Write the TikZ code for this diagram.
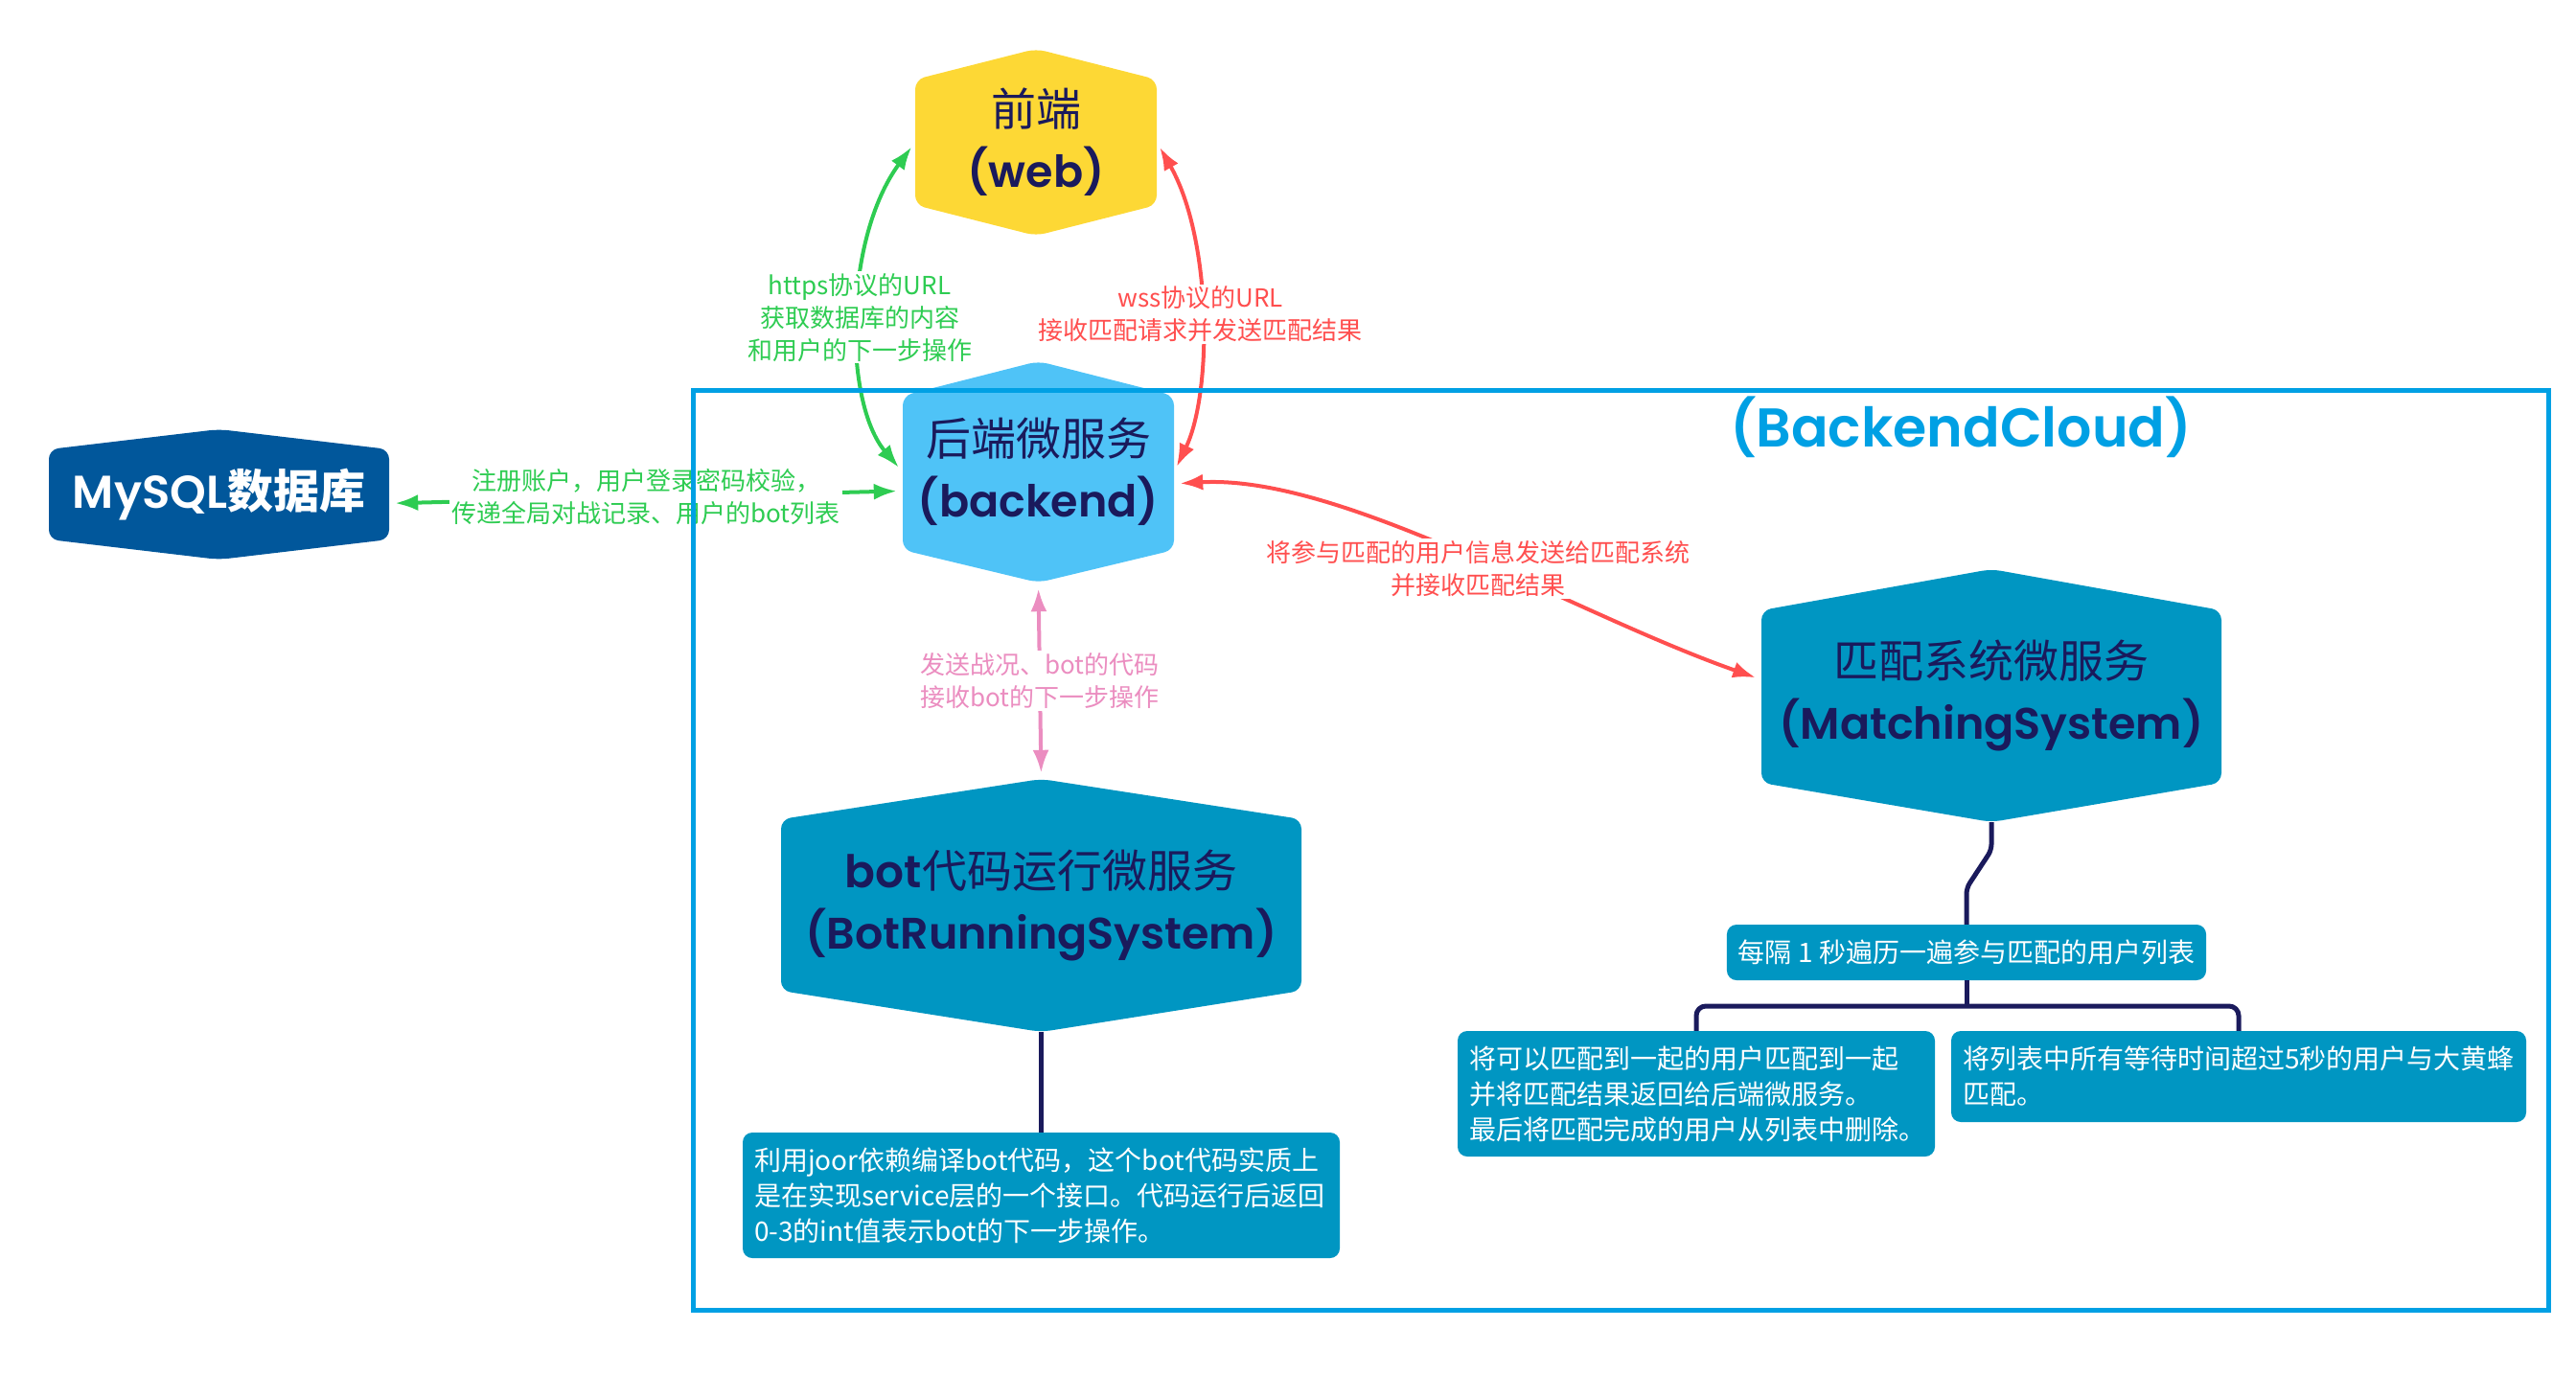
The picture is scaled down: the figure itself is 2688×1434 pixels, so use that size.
\documentclass[tikz,border=0pt]{standalone}
\usepackage{fontspec}
\setmainfont{Noto Sans CJK SC}
\newfontfamily\pop{Poppins SemiBold}
\usetikzlibrary{arrows.meta}
\definecolor{webyellow}{HTML}{FDD835}
\definecolor{backblue}{HTML}{4FC3F7}
\definecolor{dbblue}{HTML}{01579B}
\definecolor{servteal}{HTML}{0096C2}
\definecolor{darknavy}{HTML}{1A1A5C}
\definecolor{cloudblue}{HTML}{00A0E4}
\definecolor{greenarr}{HTML}{2ECC52}
\definecolor{redarr}{HTML}{FF4F4F}
\definecolor{pinkarr}{HTML}{EB8DC0}
\tikzset{
  hexname/.style={inner sep=0pt, align=center, text=darknavy, font=\fontsize{47}{64}\selectfont},
  infobox/.style={fill=servteal, rounded corners=10pt, text=white, inner xsep=12pt, inner ysep=6pt, align=left, font=\fontsize{28}{37}\selectfont},
  twoway/.style={line width=4pt, {Latex[length=24pt,width=17pt]}-{Latex[length=24pt,width=17pt]}, shorten <=6pt, shorten >=6pt},
  note/.style={fill=white, inner sep=2pt, align=center, font=\fontsize{26}{34}\selectfont},
  navyline/.style={draw=darknavy, line width=5pt}
}
\begin{document}
\begin{tikzpicture}[x=1pt,y=-1pt]
\useasboundingbox (0,0) rectangle (2688,1434);

\fill[webyellow, rounded corners=10pt] (1081,51) -- (1207,83) -- (1207,214) -- (1081,246) -- (955,214) -- (955,83) -- cycle;
\fill[backblue, rounded corners=10pt] (1083.5,377) -- (1225,413) -- (1225,574) -- (1083.5,608) -- (942,574) -- (942,413) -- cycle;
\fill[dbblue, rounded corners=10pt] (228.5,448) -- (406,469) -- (406,563) -- (228.5,584) -- (51,563) -- (51,469) -- cycle;
\fill[servteal, rounded corners=10pt] (2078,594) -- (2318,637) -- (2318,817) -- (2078,858) -- (1838,817) -- (1838,637) -- cycle;
\fill[servteal, rounded corners=10pt] (1086.5,813) -- (1358,855) -- (1358,1034) -- (1086.5,1077) -- (815,1034) -- (815,855) -- cycle;

\node[hexname, minimum width=252pt, minimum height=195pt] (web) at (1081,148.5) {前端\\{\pop\fontsize{46}{64}\selectfont (web)}};
\node[hexname, minimum width=283pt, minimum height=231pt] (backend) at (1083.5,492.5) {后端微服务\\{\pop\fontsize{46}{64}\selectfont (backend)}};
\node[inner sep=0pt, text=white, font=\fontsize{48}{54}\selectfont, minimum width=355pt, minimum height=136pt] (mysql) at (228.5,516) {{\pop MySQL}{\bfseries 数据库}};
\node[hexname, minimum width=480pt, minimum height=264pt] (matching) at (2078,726) {匹配系统微服务\\{\pop\fontsize{46}{64}\selectfont (MatchingSystem)}};
\node[hexname, minimum width=543pt, minimum height=264pt] (bot) at (1086.5,945) {{\pop bot}代码运行微服务\\{\pop\fontsize{46}{64}\selectfont (BotRunningSystem)}};

\node[text=cloudblue, font=\pop\fontsize{57}{60}\selectfont] (cloud) at (2046,446) {(BackendCloud)};

\node[infobox, minimum width=496pt, minimum height=58pt, align=center] (tick) at (2052,994) {每隔 1 秒遍历一遍参与匹配的用户列表};
\node[infobox, text width=474pt, minimum height=131pt] (pairup) at (1770,1141.5) {将可以匹配到一起的用户匹配到一起\\并将匹配结果返回给后端微服务。\\最后将匹配完成的用户从列表中删除。};
\node[infobox, text width=576pt, minimum height=95pt] (hornet) at (2336,1123.5) {将列表中所有等待时间超过5秒的用户与大黄蜂\\匹配。};
\node[infobox, text width=599pt, minimum height=131pt] (runbox) at (1086.5,1247.5) {利用joor依赖编译bot代码，这个bot代码实质上\\是在实现service层的一个接口。代码运行后返回\\0-3的int值表示bot的下一步操作。};

\draw[twoway, greenarr] (web.west) .. controls (880,250) and (880,420) .. (backend.west) node[midway, note, text=greenarr] {https协议的URL\\获取数据库的内容\\和用户的下一步操作};
\draw[twoway, redarr] (web.east) .. controls (1265,250) and (1265,410) .. (backend.east) node[midway, note, text=redarr] {wss协议的URL\\接收匹配请求并发送匹配结果};
\draw[twoway, greenarr] (backend.188) -- (mysql.-3) node[midway, note, text=greenarr] {注册账户，用户登录密码校验，\\传递全局对战记录、用户的bot列表};
\draw[twoway, redarr] (backend.-5) .. controls (1400,495) and (1640,640) .. (matching.176) node[pos=0.53, yshift=-8pt, note, text=redarr] {将参与匹配的用户信息发送给匹配系统\\并接收匹配结果};
\draw[twoway, pinkarr] (backend.south) -- (bot.north) node[midway, note, text=pinkarr] {发送战况、bot的代码\\接收bot的下一步操作};

\draw[navyline] (bot.south) -- (runbox.north);
\draw[navyline, rounded corners=6pt] (matching.south) -- ++(0,29) -- ([yshift=38pt]tick.north) -- (tick.north);
\coordinate (fork) at (2052,1050);
\draw[navyline] (tick.south) -- (fork);
\draw[navyline, rounded corners=10pt] (pairup.north) |- (fork) -| (hornet.north);

\draw[cloudblue, line width=5pt] (723,407) rectangle (2659,1367);
\end{tikzpicture}
\end{document}
